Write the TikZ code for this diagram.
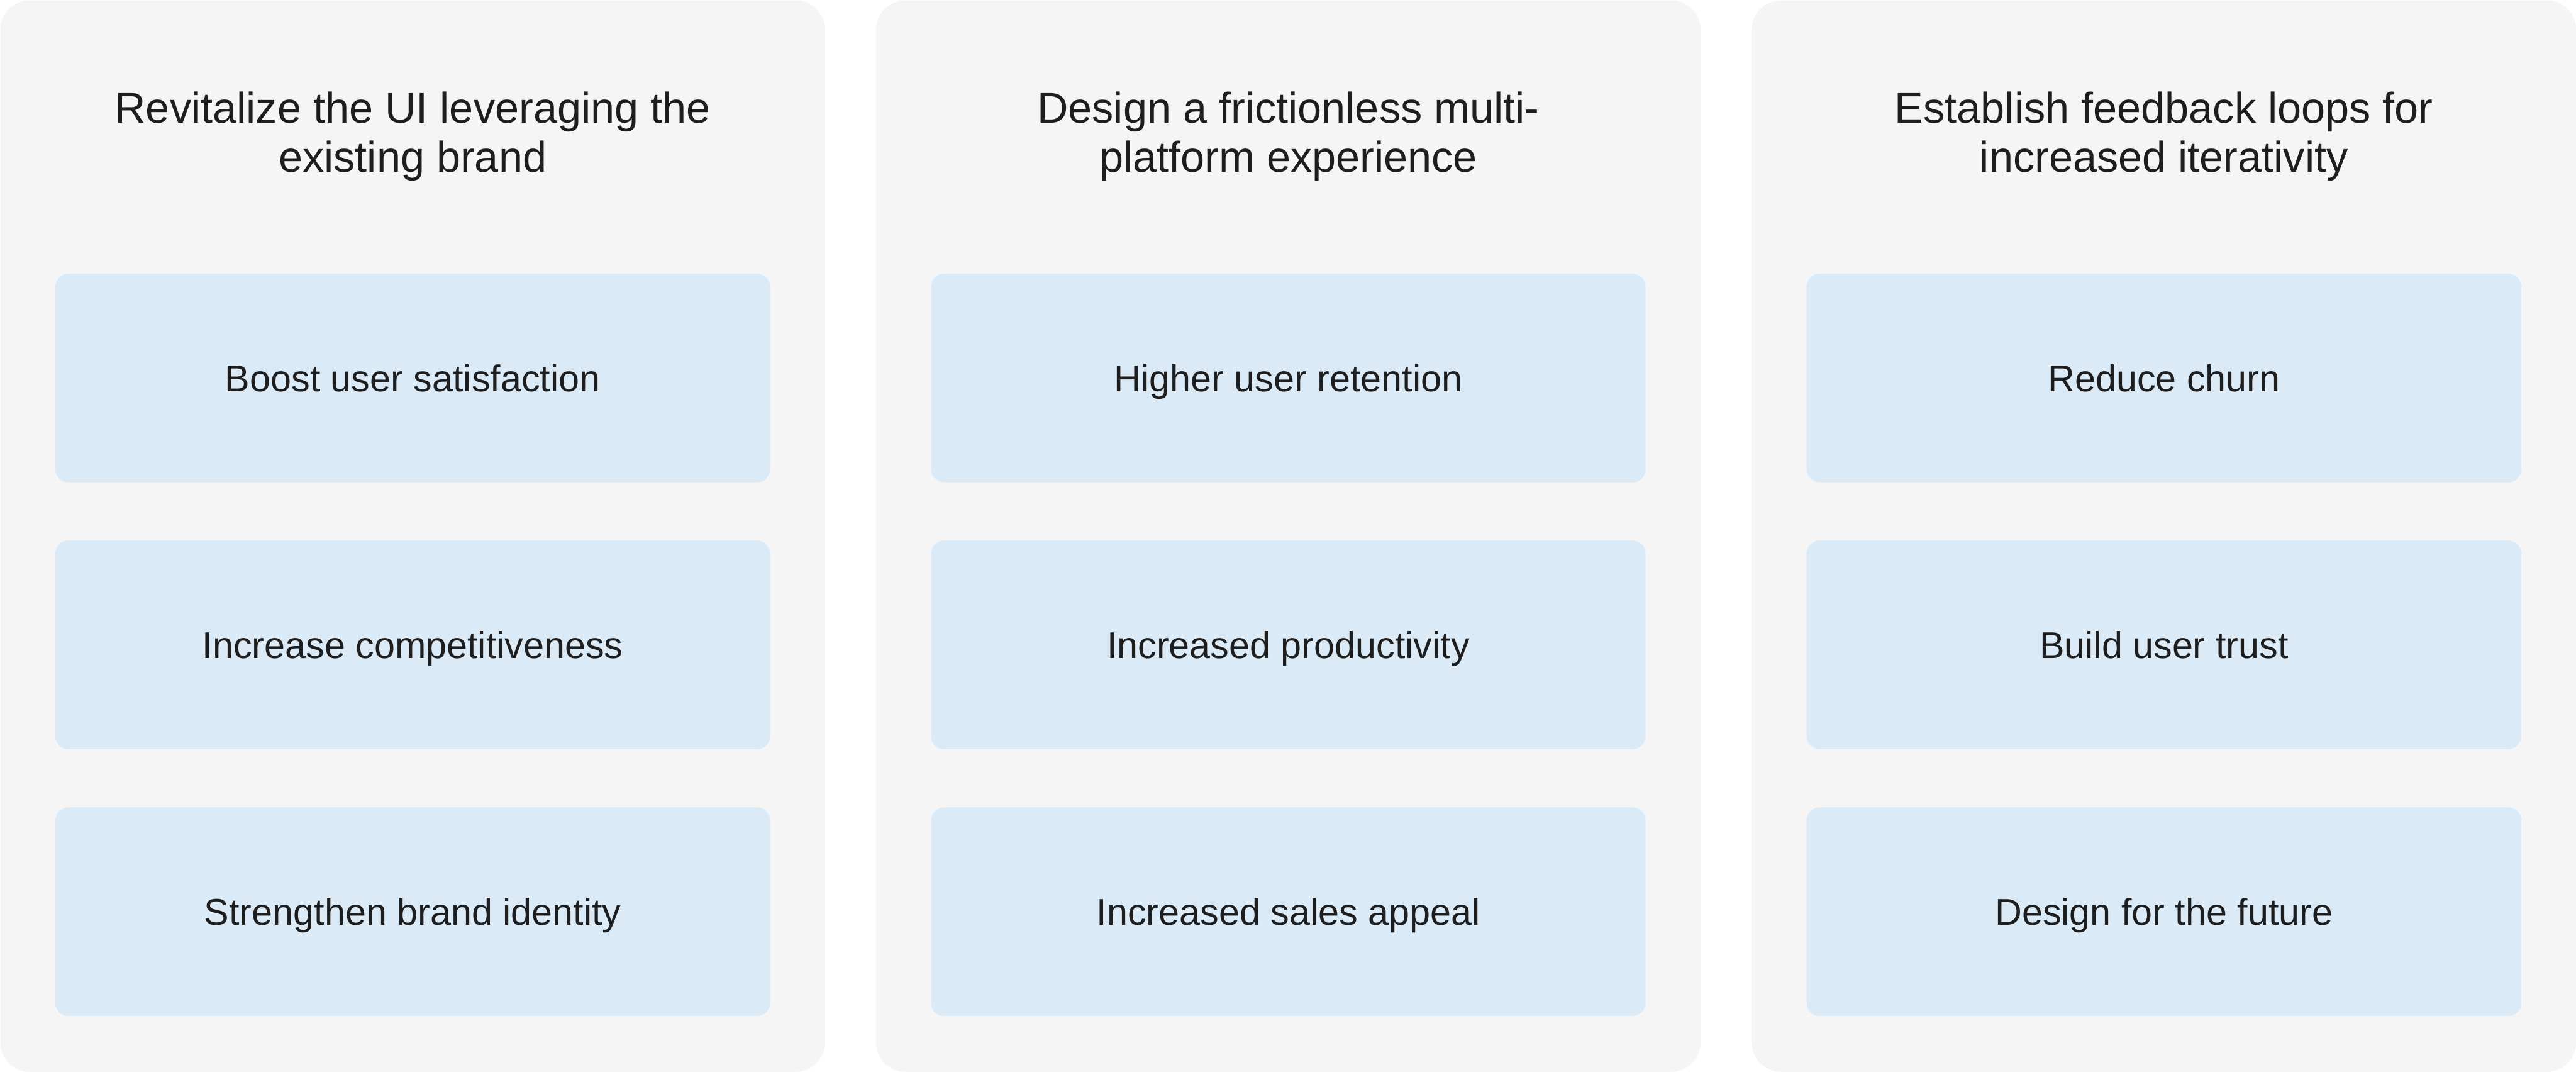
\documentclass[tikz,border=0pt]{standalone}
\usepackage{fontspec}
\setmainfont{Liberation Sans}
\usetikzlibrary{positioning}
\definecolor{panelGrey}{RGB}{245,245,245}
\definecolor{cardBlue}{RGB}{218,235,247}
\definecolor{inkDark}{RGB}{30,30,30}

\tikzset{
  panel/.style={fill=panelGrey, rounded corners=18pt, minimum width=502pt, minimum height=652pt, inner sep=0pt, anchor=north west},
  card/.style={fill=cardBlue, rounded corners=8pt, minimum width=435pt, minimum height=127pt, inner sep=0pt, text height=18pt, text depth=1.7pt, text=inkDark, font=\fontsize{22.7pt}{27pt}\selectfont},
  heading/.style={align=center, text=inkDark, font=\fontsize{26.2pt}{30pt}\selectfont}
}

\begin{document}
\begin{tikzpicture}
\useasboundingbox (0,0) rectangle (1568pt,-652pt);
% three goal columns
\foreach \col/\head/\one/\two/\three in {
    0/{Revitalize the UI leveraging the\\existing brand}/{Boost user satisfaction}/{Increase competitiveness}/{Strengthen brand identity},
    1/{Design a frictionless multi-\\platform experience}/{Higher user retention}/{Increased productivity}/{Increased sales appeal},
    2/{Establish feedback loops for\\increased iterativity}/{Reduce churn}/{Build user trust}/{Design for the future}}{
  \node[panel] (p\col) at (\col*533pt,0) {};
  \node[heading] (h\col) at ([yshift=-83pt]p\col.north) {\head};
  \node[card] (c\col a) at ([yshift=-230pt]p\col.north) {\one};
  \node[card, below=35pt of c\col a] (c\col b) {\two};
  \node[card, below=35pt of c\col b] (c\col c) {\three};
}
\end{tikzpicture}
\end{document}
